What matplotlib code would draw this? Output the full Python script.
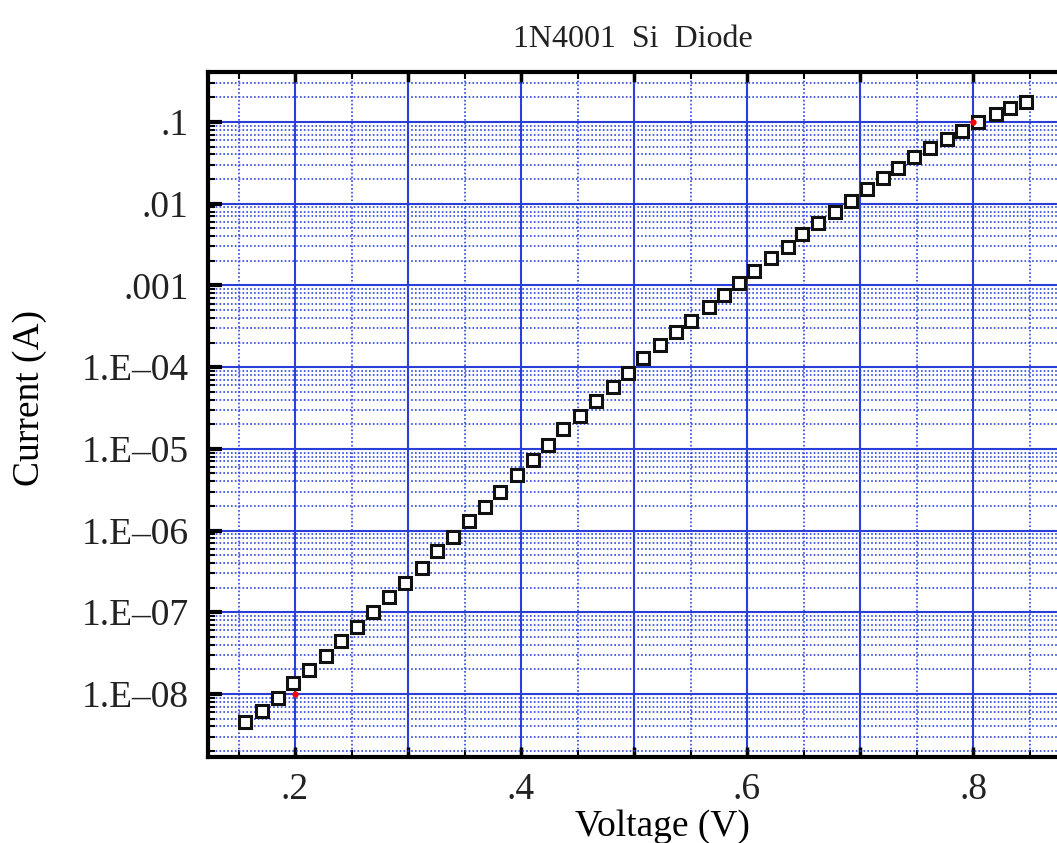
import numpy as np
import matplotlib
matplotlib.use('Agg')
import matplotlib.pyplot as plt
from matplotlib.ticker import FixedLocator, FixedFormatter

plt.rcParams['font.family'] = ['Liberation Serif', 'DejaVu Serif']
plt.rcParams['text.color'] = '#222222'
plt.rcParams['xtick.labelcolor'] = '#222222'
plt.rcParams['ytick.labelcolor'] = '#222222'

# measured diode points (voltage in V, current in A)
voltage = [0.156, 0.171, 0.185, 0.198, 0.212, 0.227, 0.241, 0.255, 0.269, 0.283,
           0.297, 0.312, 0.326, 0.340, 0.354, 0.368, 0.381, 0.396, 0.411, 0.424,
           0.437, 0.452, 0.466, 0.481, 0.495, 0.508, 0.523, 0.537, 0.550, 0.566,
           0.580, 0.593, 0.606, 0.621, 0.636, 0.649, 0.663, 0.678, 0.692, 0.706,
           0.720, 0.734, 0.748, 0.762, 0.777, 0.790, 0.804, 0.820, 0.833, 0.847]
current = [4.5e-9, 6.2e-9, 8.9e-9, 1.36e-8, 1.96e-8, 2.9e-8, 4.4e-8, 6.6e-8, 1.0e-7, 1.53e-7,
           2.28e-7, 3.5e-7, 5.6e-7, 8.3e-7, 1.31e-6, 1.94e-6, 2.96e-6, 4.8e-6, 7.3e-6, 1.11e-5,
           1.75e-5, 2.52e-5, 3.85e-5, 5.7e-5, 8.5e-5, 1.29e-4, 1.87e-4, 2.69e-4, 3.67e-4, 5.4e-4,
           7.6e-4, 1.07e-3, 1.5e-3, 2.16e-3, 2.95e-3, 4.26e-3, 5.8e-3, 7.9e-3, 1.08e-2, 1.51e-2,
           2.06e-2, 2.74e-2, 3.73e-2, 4.8e-2, 6.2e-2, 7.8e-2, 0.100, 0.125, 0.148, 0.176]

# red reference points
ref_v = [0.2, 0.8]
ref_i = [1e-8, 0.1]

x_major = [0.2, 0.3, 0.4, 0.5, 0.6, 0.7, 0.8]
x_labels = ['.2', '', '.4', '', '.6', '', '.8']
x_minor = [0.15, 0.25, 0.35, 0.45, 0.55, 0.65, 0.75, 0.85]
y_major = [1e-8, 1e-7, 1e-6, 1e-5, 1e-4, 1e-3, 1e-2, 1e-1]
y_labels = ['1.E\u201308', '1.E\u201307', '1.E\u201306', '1.E\u201305', '1.E\u201304',
            '.001', '.01', '.1']

fig = plt.figure(figsize=(10.57, 8.43), dpi=100)
ax = fig.add_axes([0.1968, 0.102, 0.8032, 0.8126])

ax.set_yscale('log')
ax.set_xlim(0.123, 0.8743)
ax.set_ylim(1.69e-9, 0.409)

ax.xaxis.set_major_locator(FixedLocator(x_major))
ax.xaxis.set_major_formatter(FixedFormatter(x_labels))
ax.xaxis.set_minor_locator(FixedLocator(x_minor))
ax.yaxis.set_major_locator(FixedLocator(y_major))
ax.yaxis.set_major_formatter(FixedFormatter(y_labels))
y_minor = [k * 10.0**n for n in range(-9, 0) for k in range(2, 10)]
ax.yaxis.set_minor_locator(FixedLocator(y_minor))
ax.yaxis.set_minor_formatter(FixedFormatter([''] * len(y_minor)))

ax.grid(which='major', color='#2a3fd8', lw=1.5, ls='-')
ax.grid(which='minor', color='#2f46e0', lw=1.2, ls=(0, (1, 1.3)))
ax.set_axisbelow(True)

ax.tick_params(which='both', direction='in', top=True, right=False,
               color='black', labelsize=27)
ax.tick_params(axis='y', which='major', length=10, width=3, pad=14)
ax.tick_params(axis='y', which='minor', length=5, width=1.5)
ax.tick_params(axis='x', which='major', length=7, width=2.5, pad=11)
ax.tick_params(axis='x', which='minor', length=5, width=1.5)

for side in ['left', 'top', 'bottom']:
    ax.spines[side].set_linewidth(3)
ax.spines['right'].set_visible(False)

ax.plot(voltage, current, ls='none', marker='s', ms=9, mfc='white',
        mec='#111111', mew=2.2, zorder=5)
ax.plot(ref_v, ref_i, ls='none', marker='o', ms=3.5, color='red', zorder=6)

ax.set_title('1N4001  Si  Diode', fontsize=23, pad=18)
ax.set_xlabel('Voltage (V)', fontsize=27)
ax.xaxis.set_label_coords(0.535, -0.076)
ax.set_ylabel('Current (A)', fontsize=27)
ax.yaxis.set_label_coords(-0.19, 0.524)

fig.savefig('out.png', dpi=100)
